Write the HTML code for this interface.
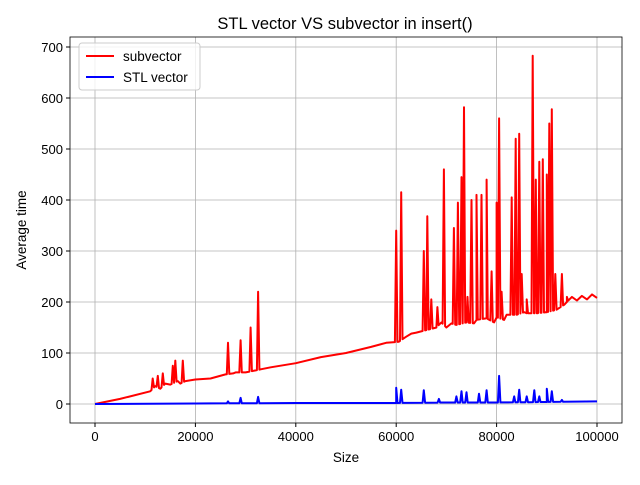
<!DOCTYPE html>
<html><head><meta charset="utf-8"><style>
body{margin:0;background:#fff;}
svg text{font-family:"Liberation Sans","DejaVu Sans",sans-serif;fill:#000;}
</style></head><body>
<svg id="chart" width="640" height="480" xmlns="http://www.w3.org/2000/svg">
<rect width="640" height="480" fill="#fff"/>
<g id="grid"></g><g id="series"></g><g id="axes"></g>
<text x="345" y="29" font-size="16.5" text-anchor="middle">STL vector VS subvector in insert()</text>
<text x="346" y="462" font-size="13.5" text-anchor="middle">Size</text>
<text transform="translate(26,230) rotate(-90)" font-size="13.5" text-anchor="middle">Average time</text>
<g>
<rect x="79" y="43" width="121" height="47" rx="3" fill="#fff" fill-opacity="0.8" stroke="#ccc"/>
<line x1="86" y1="56" x2="114" y2="56" stroke="#ff0000" stroke-width="2"/>
<text x="123" y="61" font-size="13.5">subvector</text>
<line x1="86" y1="77" x2="114" y2="77" stroke="#0000ff" stroke-width="2"/>
<text x="123" y="82" font-size="13.5">STL vector</text>
</g>
</svg>
<script>
const xTicks=[0,20000,40000,60000,80000,100000];
const yTicks=[0,100,200,300,400,500,600,700];
const redBaseX=[0,5000,11000,12000,13000,14000,15000,16500,17000,18000,20000,23000,26000,27500,28000,30000,33000,35000,40000,45000,50000,55000,58000,60500,62000,63000,64000,66000,68000,69000,70000,71000,72000,74000,75500,76000,78000,79500,80000,81500,82000,84000,85500,86000,88000,90000,92000,93500,94000,95000,96000,97000,98000,99000,100000];
const redBaseY=[0,10,25,35,30,40,38,45,40,45,48,50,58,60,62,62,68,72,80,92,100,112,120,122,132,138,140,145,150,160,150,158,155,160,158,165,168,160,170,165,175,175,180,178,178,180,185,195,200,210,203,212,205,215,208];
const redSpikeX=[11500,12500,13500,15500,16000,17500,26500,29000,31000,32500,60000,61000,65500,66200,67000,68200,69500,71500,72300,73000,73500,74200,75000,76000,77000,78000,79000,80000,80500,81000,83000,83800,84500,85000,86000,87200,87800,88500,89200,90000,90500,91000,91700,93000,94000];
const redSpikeY=[50,55,60,75,85,85,120,125,150,220,340,415,300,368,205,190,460,345,395,445,582,210,400,410,410,440,260,395,560,220,405,520,530,255,205,683,440,475,480,450,550,578,255,255,210];
const blueBaseX=[0,20000,40000,60000,70000,80000,90000,100000];
const blueBaseY=[0,1,2,2,3,3,4,5];
const blueSpikeX=[26500,29000,32500,60000,61000,65500,68500,72000,73000,74000,76500,78000,80500,83500,84500,86000,87500,88500,90000,91000,93000];
const blueSpikeY=[5,12,14,32,28,27,10,15,25,23,20,27,55,15,28,15,27,15,30,25,8];

const X=v=>95+(v/100000)*502, Y=v=>404-(v/700)*357;
const L=70,R=622,T=37,B=423;
const NS="http://www.w3.org/2000/svg";
function mk(tag,attrs,parent){const e=document.createElementNS(NS,tag);for(const k in attrs)e.setAttribute(k,attrs[k]);parent.appendChild(e);return e;}
const grid=document.getElementById('grid'),axes=document.getElementById('axes'),ser=document.getElementById('series');
function interp(bx,by,x){for(let i=1;i<bx.length;i++){if(x<=bx[i]){const t=(x-bx[i-1])/(bx[i]-bx[i-1]);return by[i-1]+t*(by[i]-by[i-1]);}}return by[by.length-1];}
function build(bx,by,sx,sy){const pts=[];bx.forEach((x,i)=>pts.push([x,by[i]]));sx.forEach((x,i)=>{pts.push([x-250,interp(bx,by,x-250)]);pts.push([x,sy[i]]);pts.push([x+250,interp(bx,by,x+250)]);});pts.sort((a,b)=>a[0]-b[0]);return pts.map(p=>X(p[0]).toFixed(1)+','+Y(p[1]).toFixed(1)).join(' ');}
xTicks.forEach(t=>{
 const g=mk('line',{x1:X(t),x2:X(t),y1:T,y2:B,stroke:'#b0b0b0','stroke-width':0.8},grid);
 
 
 mk('line',{x1:X(t),x2:X(t),y1:B,y2:B+4,stroke:'#000'},axes);
 const tx=mk('text',{x:X(t),y:B+18,'font-size':13,'text-anchor':'middle'},axes);tx.textContent=t;
 
 
});
yTicks.forEach(t=>{
 const g=mk('line',{x1:L,x2:R,y1:Y(t),y2:Y(t),stroke:'#b0b0b0','stroke-width':0.8},grid);
 
 
 mk('line',{x1:L-4,x2:L,y1:Y(t),y2:Y(t),stroke:'#000'},axes);
 const tx=mk('text',{x:L-7,y:Y(t)+5,'font-size':13,'text-anchor':'end'},axes);tx.textContent=t;
 
 
});
const frame=mk('rect',{x:L,y:T,width:R-L,height:B-T,fill:'none',stroke:'#000','stroke-width':0.8},axes);


const red=mk('polyline',{points:build(redBaseX,redBaseY,redSpikeX,redSpikeY),fill:'none',stroke:'#ff0000','stroke-width':2,'stroke-linejoin':'round'},ser);


const blue=mk('polyline',{points:build(blueBaseX,blueBaseY,blueSpikeX,blueSpikeY),fill:'none',stroke:'#0000ff','stroke-width':2,'stroke-linejoin':'round'},ser);


</script>
</body></html>
